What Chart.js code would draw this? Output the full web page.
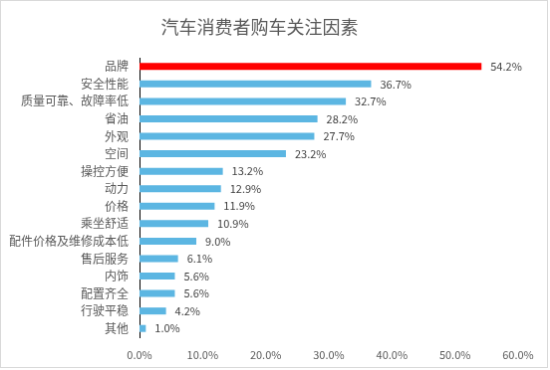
<!DOCTYPE html>
<html><head><meta charset="utf-8">
<script src="https://cdn.jsdelivr.net/npm/chart.js@4/dist/chart.umd.min.js"></script>
<style>
html,body{margin:0;padding:0;background:#fff;}
#c{display:block;border:1px solid #d9d9d9;}
</style></head>
<body>
<canvas id="c" width="548" height="368"></canvas>
<script>
const categories = ['品牌','安全性能','质量可靠、故障率低','省油','外观','空间','操控方便','动力','价格','乘坐舒适','配件价格及维修成本低','售后服务','内饰','配置齐全','行驶平稳','其他'];
const values = [54.2,36.7,32.7,28.2,27.7,23.2,13.2,12.9,11.9,10.9,9.0,6.1,5.6,5.6,4.2,1.0];
const xTicks = [0,10,20,30,40,50,60];
const titleText = '汽车消费者购车关注因素';

const FONT = "'Noto Sans CJK SC','Noto Sans',sans-serif";
const colors = values.map((v,i)=> i===0 ? '#FF0000' : '#5CB6E2');

const labelPlugin = {
  id:'barLabels',
  afterDatasetsDraw(chart){
    const ctx = chart.ctx;
    const meta = chart.getDatasetMeta(0);
    ctx.save();
    ctx.font = '11px ' + FONT;
    ctx.fillStyle = '#404040';
    ctx.textAlign = 'left';
    ctx.textBaseline = 'middle';
    meta.data.forEach((bar,i)=>{
      ctx.fillText(values[i].toFixed(1)+'%', bar.x + 9, bar.y);
    });
    ctx.restore();
  }
};

new Chart(document.getElementById('c'),{
  type:'bar',
  data:{labels:categories,datasets:[{data:values,backgroundColor:colors,borderWidth:0,categoryPercentage:1,barPercentage:0.4}]},
  options:{
    indexAxis:'y',
    responsive:false,
    animation:false,
    layout:{padding:{left:0,right:29,top:0,bottom:0}},
    plugins:{
      legend:{display:false},
      tooltip:{enabled:false},
      title:{display:true,text:titleText,color:'#595959',font:{family:FONT,size:18,weight:'normal',lineHeight:1.2},padding:{top:15,bottom:20.4}}
    },
    scales:{
      x:{
        min:0,max:60,
        afterBuildTicks(s){ s.ticks = xTicks.map(v=>({value:v})); },
        afterFit(s){ s.height = 30; },
        grid:{display:false,drawTicks:false},
        border:{display:false},
        ticks:{padding:11,color:'#595959',font:{family:FONT,size:11},maxRotation:0,callback:(v)=>Number(v).toFixed(1)+'%'}
      },
      y:{
        afterFit(s){ s.width = 139; },
        grid:{display:false,drawTicks:false},
        border:{display:true,color:'#000000',width:1},
        ticks:{padding:11,color:'#595959',font:{family:FONT,size:12},autoSkip:false}
      }
    }
  },
  plugins:[labelPlugin]
});
</script>
</body></html>
